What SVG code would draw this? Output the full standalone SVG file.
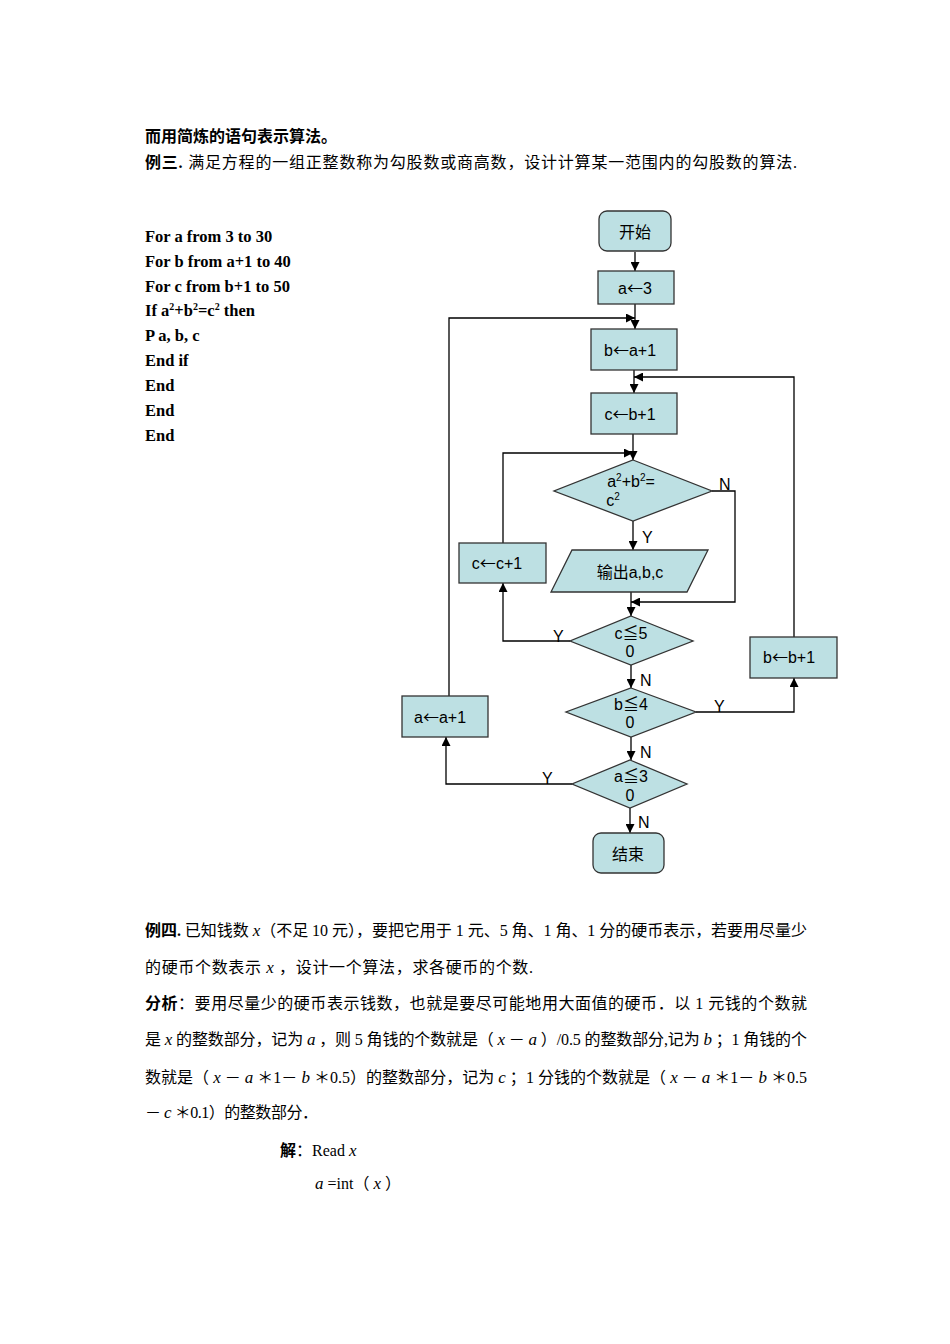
<svg xmlns="http://www.w3.org/2000/svg" width="950" height="1344" viewBox="0 0 950 1344">
<style>
.body{font-family:"Liberation Serif","Noto Sans CJK SC",serif;font-size:16px;fill:#000}
.b{font-weight:bold}
.code{font-family:"Liberation Serif",serif;font-size:16.5px;font-weight:bold;fill:#000}
.it{font-family:"Liberation Serif",serif;font-style:italic;font-size:17px}
.node{fill:#bde0e3;stroke:#333;stroke-width:1.3}
.lbl{font-family:"Liberation Sans","Noto Sans CJK SC",sans-serif;font-size:16px;fill:#000;text-anchor:middle}
.ar{font-family:"Noto Sans CJK SC",sans-serif}
.yn{font-family:"Liberation Sans",sans-serif;font-size:16px;fill:#000}
.conn{fill:none;stroke:#000;stroke-width:1.3}
</style>
<defs>
<marker id="arr" viewBox="0 0 10 10" refX="10" refY="5" markerWidth="9" markerHeight="9" markerUnits="userSpaceOnUse" orient="auto">
<path d="M0,0 L10,5 L0,10 z" fill="#000"/>
</marker>
</defs>
<rect width="950" height="1344" fill="#fff"/>

<g id="text-top">
<text class="body b" x="145" y="142">而用简炼的语句表示算法。</text>
<text class="body" x="145" y="168" textLength="652" lengthAdjust="spacing"><tspan class="b">例三.</tspan> 满足方程的一组正整数称为勾股数或商高数，设计计算某一范围内的勾股数的算法.</text>
</g>

<g id="code">
<text class="code" x="145" y="242">For a from 3 to 30</text>
<text class="code" x="145" y="267">For b from a+1 to 40</text>
<text class="code" x="145" y="292">For c from b+1 to 50</text>
<text class="code" x="145" y="316">If a<tspan font-size="10" dy="-6">2</tspan><tspan dy="6">+b</tspan><tspan font-size="10" dy="-6">2</tspan><tspan dy="6">=c</tspan><tspan font-size="10" dy="-6">2</tspan><tspan dy="6"> then</tspan></text>
<text class="code" x="145" y="341">P a, b, c</text>
<text class="code" x="145" y="366">End if</text>
<text class="code" x="145" y="391">End</text>
<text class="code" x="145" y="416">End</text>
<text class="code" x="145" y="441">End</text>
</g>

<g id="connectors">
<path class="conn" d="M635,252 L635,271" marker-end="url(#arr)"/>
<path class="conn" d="M635,304 L635,329" marker-end="url(#arr)"/>
<path class="conn" d="M449,696 L449,318 L635,318" marker-end="url(#arr)"/>
<path class="conn" d="M634,370 L634,393" marker-end="url(#arr)"/>
<path class="conn" d="M794,637 L794,377 L634,377" marker-end="url(#arr)"/>
<path class="conn" d="M633,434 L633,460" marker-end="url(#arr)"/>
<path class="conn" d="M503,543 L503,453 L633,453" marker-end="url(#arr)"/>
<path class="conn" d="M633,521 L633,550" marker-end="url(#arr)"/>
<path class="conn" d="M712,491 L735,491 L735,602 L631,602" marker-end="url(#arr)"/>
<path class="conn" d="M631,592 L631,616" marker-end="url(#arr)"/>
<path class="conn" d="M570,641 L503,641 L503,583" marker-end="url(#arr)"/>
<path class="conn" d="M631,665 L631,688" marker-end="url(#arr)"/>
<path class="conn" d="M696,712 L794,712 L794,678" marker-end="url(#arr)"/>
<path class="conn" d="M631,737 L631,760" marker-end="url(#arr)"/>
<path class="conn" d="M572,784 L446,784 L446,737" marker-end="url(#arr)"/>
<path class="conn" d="M630,808 L630,833" marker-end="url(#arr)"/>
<text class="yn" x="642" y="543">Y</text>
<text class="yn" x="719" y="490">N</text>
<text class="yn" x="553" y="642">Y</text>
<text class="yn" x="640" y="686">N</text>
<text class="yn" x="714" y="712">Y</text>
<text class="yn" x="640" y="758">N</text>
<text class="yn" x="542" y="784">Y</text>
<text class="yn" x="638" y="828">N</text>
</g>

<g id="start">
<rect class="node" x="599" y="211" width="72" height="40" rx="8"/>
<text class="lbl" x="635" y="238">开始</text>
</g>
<g id="a3">
<rect class="node" x="598" y="271" width="76" height="33"/>
<text class="lbl" x="635" y="294">a<tspan class="ar">←</tspan>3</text>
</g>
<g id="ba1">
<rect class="node" x="591" y="329" width="86" height="41"/>
<text class="lbl" x="630" y="356">b<tspan class="ar">←</tspan>a+1</text>
</g>
<g id="cb1">
<rect class="node" x="591" y="393" width="86" height="41"/>
<text class="lbl" x="630" y="420">c<tspan class="ar">←</tspan>b+1</text>
</g>
<g id="cond1">
<polygon class="node" points="633,460 712,491 633,521 554,491"/>
<text class="lbl" x="631" y="487">a<tspan font-size="10" dy="-6">2</tspan><tspan dy="6">+b</tspan><tspan font-size="10" dy="-6">2</tspan><tspan dy="6">=</tspan></text>
<text class="lbl" x="613" y="506">c<tspan font-size="10" dy="-6">2</tspan></text>
</g>
<g id="output">
<polygon class="node" points="572,550 708,550 687,592 551,592"/>
<text class="lbl" x="630" y="578">输出a,b,c</text>
</g>
<g id="cc1">
<rect class="node" x="459" y="543" width="87" height="40"/>
<text class="lbl" x="497" y="569">c<tspan class="ar">←</tspan>c+1</text>
</g>
<g id="cond2">
<polygon class="node" points="631,616 693,641 631,665 570,641"/>
<text class="lbl" x="631" y="639">c≦5</text>
<text class="lbl" x="630" y="657">0</text>
</g>
<g id="bb1">
<rect class="node" x="750" y="637" width="87" height="41"/>
<text class="lbl" x="789" y="663">b<tspan class="ar">←</tspan>b+1</text>
</g>
<g id="cond3">
<polygon class="node" points="631,688 696,712 631,737 566,712"/>
<text class="lbl" x="631" y="710">b≦4</text>
<text class="lbl" x="630" y="728">0</text>
</g>
<g id="aa1">
<rect class="node" x="402" y="696" width="86" height="41"/>
<text class="lbl" x="440" y="723">a<tspan class="ar">←</tspan>a+1</text>
</g>
<g id="cond4">
<polygon class="node" points="630,760 687,784 630,808 572,784"/>
<text class="lbl" x="631" y="782">a≦3</text>
<text class="lbl" x="630" y="801">0</text>
</g>
<g id="end">
<rect class="node" x="593" y="833" width="71" height="40" rx="8"/>
<text class="lbl" x="628" y="860">结束</text>
</g>

<g id="text-bottom">
<text class="body" x="145" y="936" textLength="662" lengthAdjust="spacing"><tspan class="b">例四.</tspan> 已知钱数 <tspan class="it">x</tspan>（不足 10 元），要把它用于 1 元、5 角、1 角、1 分的硬币表示，若要用尽量少</text>
<text class="body" x="145" y="973" textLength="388" lengthAdjust="spacing">的硬币个数表示 <tspan class="it">x</tspan> ，设计一个算法，求各硬币的个数.</text>
<text class="body" x="145" y="1009" textLength="662" lengthAdjust="spacing"><tspan class="b">分析</tspan>：要用尽量少的硬币表示钱数，也就是要尽可能地用大面值的硬币．以 1 元钱的个数就</text>
<text class="body" x="145" y="1045" textLength="662" lengthAdjust="spacing">是 <tspan class="it">x</tspan> 的整数部分，记为 <tspan class="it">a</tspan> ，则 5 角钱的个数就是（ <tspan class="it">x</tspan> － <tspan class="it">a</tspan> ）/0.5 的整数部分,记为 <tspan class="it">b</tspan> ；1 角钱的个</text>
<text class="body" x="145" y="1083" textLength="662" lengthAdjust="spacing">数就是（ <tspan class="it">x</tspan> － <tspan class="it">a</tspan> ＊1－ <tspan class="it">b</tspan> ＊0.5）的整数部分，记为 <tspan class="it">c</tspan> ；1 分钱的个数就是（ <tspan class="it">x</tspan> － <tspan class="it">a</tspan> ＊1－ <tspan class="it">b</tspan> ＊0.5</text>
<text class="body" x="145" y="1118" textLength="173" lengthAdjust="spacing">－ <tspan class="it">c</tspan> ＊0.1）的整数部分．</text>
<text class="body" x="280" y="1156"><tspan class="b">解</tspan>：Read <tspan class="it">x</tspan></text>
<text class="body" x="315" y="1189"><tspan class="it">a</tspan> =int（ <tspan class="it">x</tspan> ）</text>
</g>
</svg>
